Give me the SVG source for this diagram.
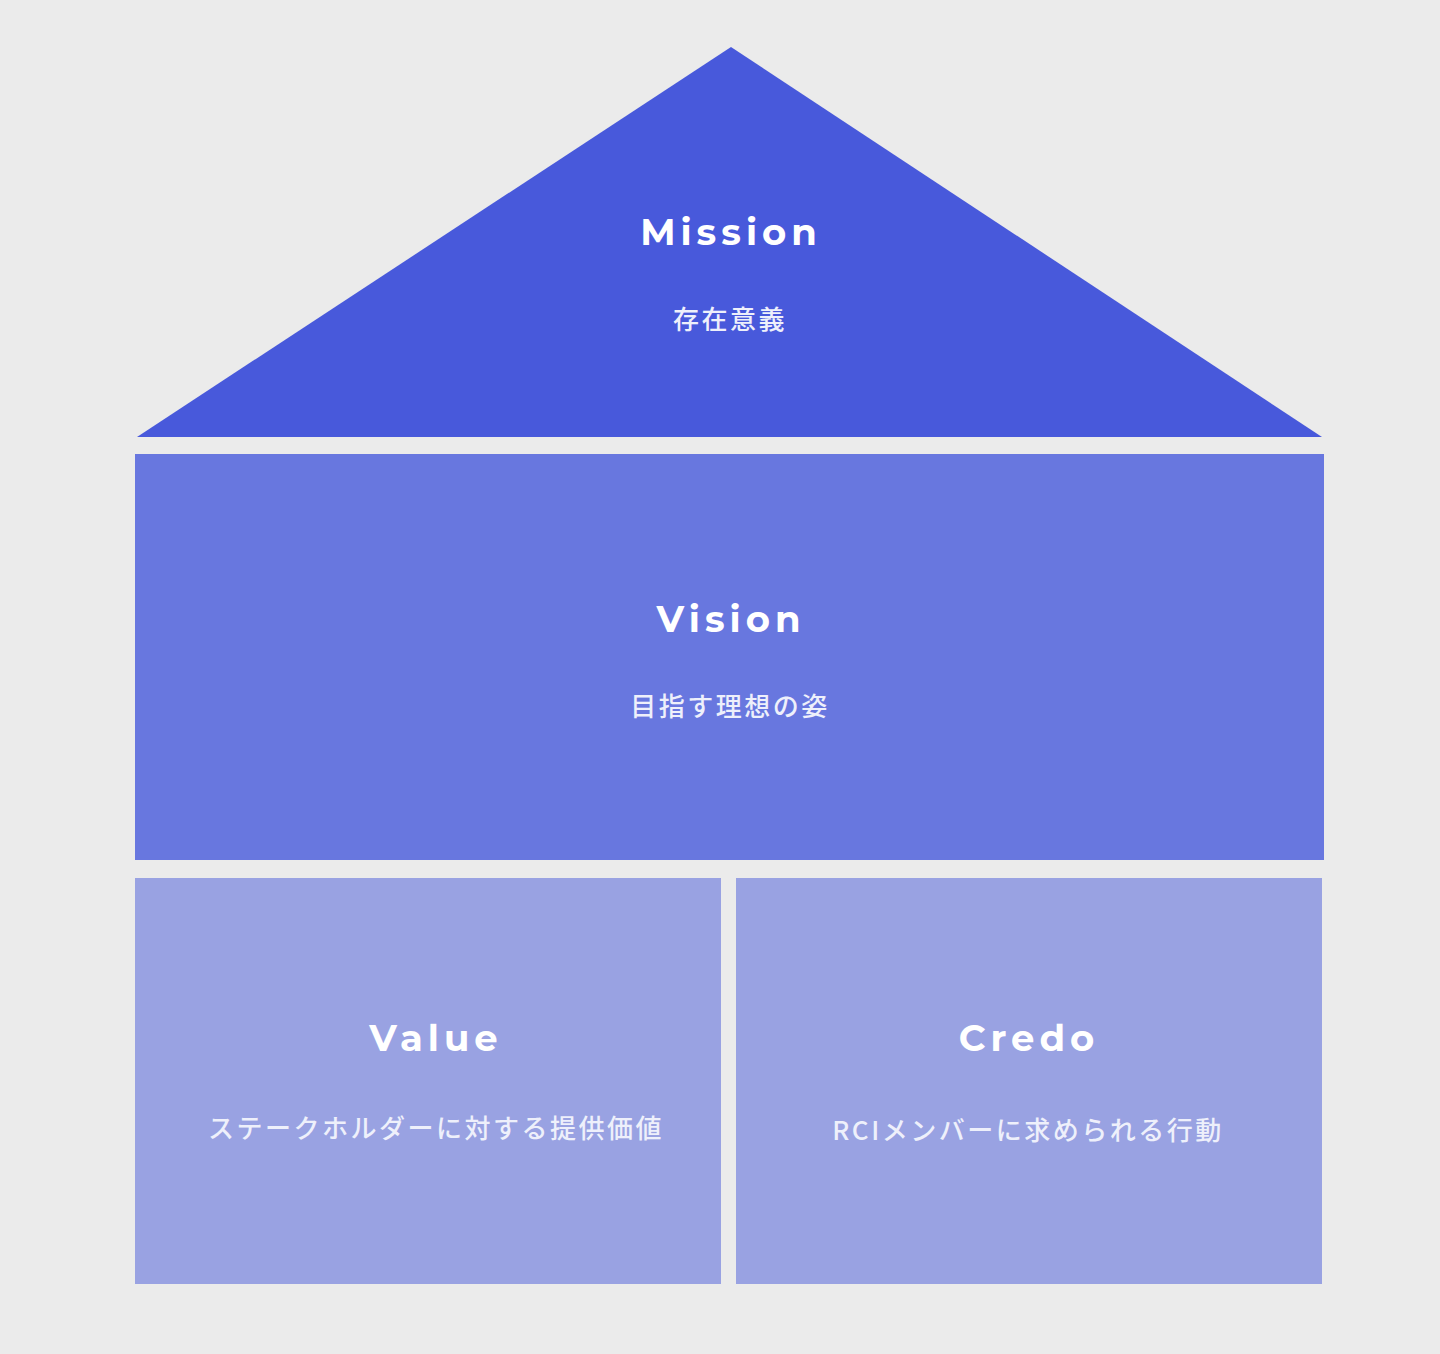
<svg xmlns="http://www.w3.org/2000/svg" width="1440" height="1354" viewBox="0 0 1440 1354">
<style>
.title{font-family:"Montserrat","Lato","Open Sans",sans-serif;font-weight:700;font-size:37px;letter-spacing:5px;fill:#ffffff;text-anchor:middle}
.sub{font-family:"Noto Sans CJK JP","Noto Sans",sans-serif;font-size:26px;font-weight:500;letter-spacing:2.5px;fill:#eef0fb;text-anchor:middle}
</style>
<rect x="0" y="0" width="1440" height="1354" fill="#ebebeb"/>
<g id="mission">
<polygon points="731,47 1322,437 137,437" fill="#4859db"/>
<text class="title" x="731" y="245">Mission</text>
<text class="sub" x="730" y="329">存在意義</text>
</g>
<g id="vision">
<rect x="135" y="454" width="1189" height="406" fill="#6877df"/>
<text class="title" x="731" y="632">Vision</text>
<text class="sub" x="730" y="716">目指す理想の姿</text>
</g>
<g id="value">
<rect x="135" y="878" width="586" height="406" fill="#99a2e2"/>
<text class="title" x="436" y="1051">Value</text>
<text class="sub" x="436" y="1138">ステークホルダーに対する提供価値</text>
</g>
<g id="credo">
<rect x="736" y="878" width="586" height="406" fill="#99a2e2"/>
<text class="title" x="1029" y="1051">Credo</text>
<text class="sub" x="1028" y="1140">RCIメンバーに求められる行動</text>
</g>
<g id="connectors"></g>
</svg>
